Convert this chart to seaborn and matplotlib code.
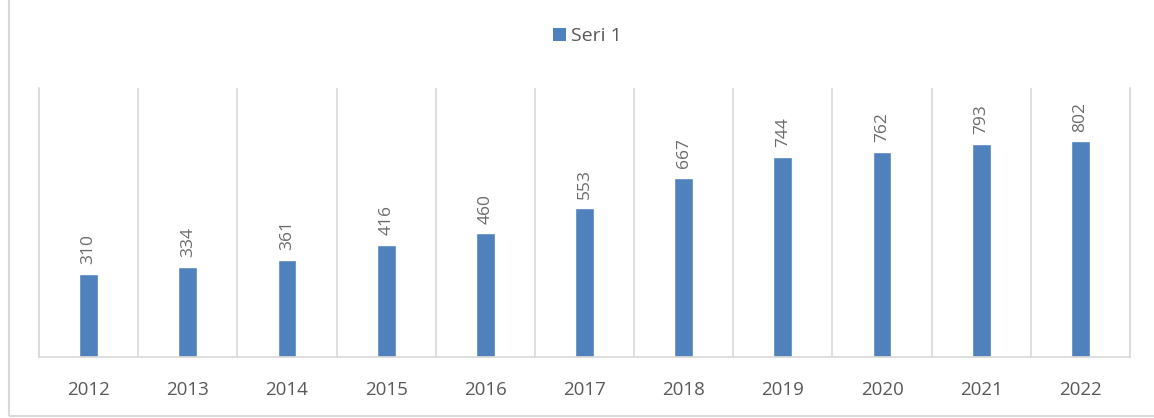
import numpy as np
import pandas as pd
import matplotlib.pyplot as plt
import seaborn as sns
from matplotlib.patches import Rectangle, Patch

years = ["2012", "2013", "2014", "2015", "2016", "2017", "2018", "2019", "2020", "2021", "2022"]
values = [310, 334, 361, 416, 460, 553, 667, 744, 762, 793, 802]
series_name = "Seri 1"

bar_color = "#4f81bd"
grid_color = "#d9d9d9"
text_color = "#595959"

sns.set_style("white")
plt.rcParams["font.family"] = ["Open Sans", "DejaVu Sans"]

df = pd.DataFrame({"year": years, "value": values})

fig = plt.figure(figsize=(11.54, 4.18), dpi=100)
ax = fig.add_axes([0.0338, 0.1459, 0.9454, 0.6436])

sns.barplot(data=df, x="year", y="value", color=bar_color, width=0.19,
            saturation=1, ax=ax)

ax.set_xlim(-0.5, len(years) - 0.5)
ax.set_ylim(0, 1000)
ax.set_yticks([])
ax.set_xlabel("")
ax.set_ylabel("")

# category boundaries as vertical gridlines
ax.set_xticks(np.arange(-0.5, len(years), 1), minor=True)
ax.grid(which="minor", axis="x", color=grid_color, linewidth=1.2)
ax.tick_params(axis="x", which="both", length=0, pad=17, labelsize=13.5,
               labelcolor=text_color)

for side in ["left", "right", "bottom"]:
    ax.spines[side].set_color(grid_color)
    ax.spines[side].set_linewidth(1.2)
ax.spines["top"].set_visible(False)

for container in ax.containers:
    ax.bar_label(container, rotation=90, padding=7, color="#6b6b6b", fontsize=12.5)

handle = Patch(facecolor=bar_color, edgecolor="none")
leg = fig.legend([handle], [series_name], loc="center", bbox_to_anchor=(0.509, 0.913),
                 frameon=False, fontsize=14, handlelength=0.7, handleheight=0.7,
                 handletextpad=0.25, labelcolor=text_color)

# outer chart border
fig.patches.append(Rectangle((9 / 1154, 2 / 418), 1.2, 1.2, transform=fig.transFigure,
                             fill=False, edgecolor=grid_color, linewidth=1.5))

fig.savefig("out.png", dpi=100)
